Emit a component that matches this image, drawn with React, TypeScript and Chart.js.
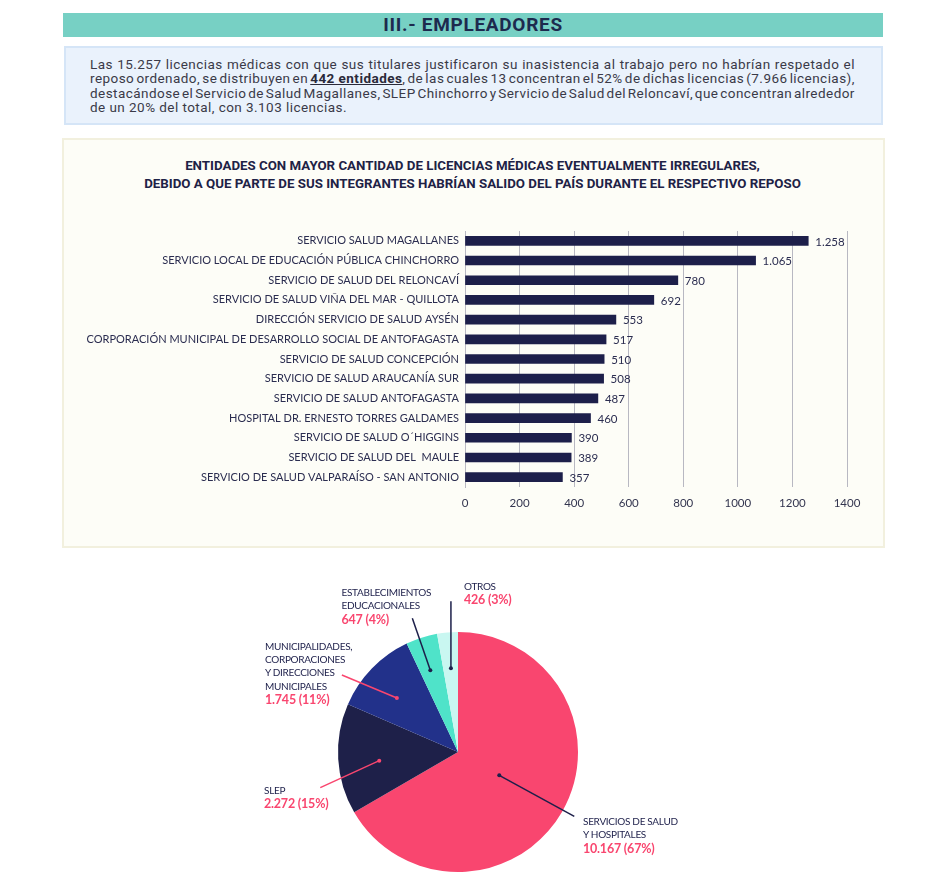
import React, { useEffect, useRef } from 'react';
import { Chart, registerables } from 'chart.js';

Chart.register(...registerables);

// ---------- DATA ----------
const entityNames = [
  'SERVICIO SALUD MAGALLANES',
  'SERVICIO LOCAL DE EDUCACIÓN PÚBLICA CHINCHORRO',
  'SERVICIO DE SALUD DEL RELONCAVÍ',
  'SERVICIO DE SALUD VIÑA DEL MAR - QUILLOTA',
  'DIRECCIÓN SERVICIO DE SALUD AYSÉN',
  'CORPORACIÓN MUNICIPAL DE DESARROLLO SOCIAL DE ANTOFAGASTA',
  'SERVICIO DE SALUD CONCEPCIÓN',
  'SERVICIO DE SALUD ARAUCANÍA SUR',
  'SERVICIO DE SALUD ANTOFAGASTA',
  'HOSPITAL DR. ERNESTO TORRES GALDAMES',
  'SERVICIO DE SALUD O´HIGGINS',
  'SERVICIO DE SALUD DEL  MAULE',
  'SERVICIO DE SALUD VALPARAÍSO - SAN ANTONIO',
];
const entityLicencias = [1258, 1065, 780, 692, 553, 517, 510, 508, 487, 460, 390, 389, 357];
const axisMax = 1400;
const axisStep = 200;

const sectorNames = [
  'SERVICIOS DE SALUD\nY HOSPITALES',
  'SLEP',
  'MUNICIPALIDADES,\nCORPORACIONES\nY DIRECCIONES\nMUNICIPALES',
  'ESTABLECIMIENTOS\nEDUCACIONALES',
  'OTROS',
];
const sectorLicencias = [10167, 2272, 1745, 647, 426];
const sectorPercents = ['67%', '15%', '11%', '4%', '3%'];

const headerTitle = 'III.- EMPLEADORES';
const chartTitle = [
  'ENTIDADES CON MAYOR CANTIDAD DE LICENCIAS MÉDICAS EVENTUALMENTE IRREGULARES,',
  'DEBIDO A QUE PARTE DE SUS INTEGRANTES HABRÍAN SALIDO DEL PAÍS DURANTE EL RESPECTIVO REPOSO',
];

// ---------- STYLE ----------
const NAVY = '#1d1f4a';
const PINK = '#f9466f';
const GRID = '#b8b8c2';
const sectorColors = [PINK, '#1e2049', '#22318a', '#4fe3c9', '#c9f7f1'];
const LABEL_FONT = 'Lato';
const TITLE_FONT = 'Roboto';

const fmt = (n: number) => String(n).replace(/\B(?=(\d{3})+(?!\d))/g, '.');

// leader lines: start on the slice (fraction of radius at mid angle, with small angle shift), end offset
const leaderSpecs = [
  { frac: 0.395, shift: -0.5, dx: 75, dy: 41, color: NAVY },
  { frac: 0.66, shift: -3, dx: -59, dy: 27, color: PINK },
  { frac: 0.68, shift: -2.6, dx: -55, dy: -23, color: PINK },
  { frac: 0.72, shift: -1, dx: -18, dy: -52, color: NAVY },
  { frac: 0.7, shift: 0.2, dx: 0, dy: -67, color: NAVY },
];
// label block positions (left, top)
const labelPos = [
  { left: 583, top: 815 },
  { left: 264, top: 784 },
  { left: 265, top: 639.5 },
  { left: 341.5, top: 586 },
  { left: 464, top: 579.5 },
];

function BarChart() {
  const ref = useRef<HTMLCanvasElement>(null);
  useEffect(() => {
    const valueLabels = {
      id: 'valueLabels',
      afterDatasetsDraw(chart: any) {
        const ctx = chart.ctx;
        const meta = chart.getDatasetMeta(0);
        ctx.save();
        ctx.font = `11.5px ${LABEL_FONT}`;
        ctx.fillStyle = '#2b2d50';
        ctx.textBaseline = 'middle';
        ctx.textAlign = 'left';
        meta.data.forEach((el: any, i: number) => {
          ctx.fillText(fmt(entityLicencias[i]), el.x + 7, el.y + 1);
        });
        ctx.restore();
      },
    };
    const chart = new Chart(ref.current as HTMLCanvasElement, {
      type: 'bar',
      data: {
        labels: entityNames,
        datasets: [{ data: entityLicencias, backgroundColor: NAVY, barThickness: 9 }],
      },
      options: {
        indexAxis: 'y',
        animation: false,
        responsive: false,
        layout: { padding: { left: 0, right: 38, top: 93, bottom: 38 } },
        plugins: {
          legend: { display: false },
          tooltip: { enabled: false },
        },
        scales: {
          x: {
            min: 0,
            max: axisMax,
            ticks: {
              stepSize: axisStep,
              color: '#33354f',
              font: { family: LABEL_FONT, size: 11.5 },
              padding: 9,
              callback: (v: any) => String(v),
            },
            grid: { color: GRID, drawTicks: false, lineWidth: 1 },
            border: { display: false },
            afterFit: (s: any) => {
              s.height = 23;
            },
          },
          y: {
            grid: { display: false, drawTicks: false },
            border: { display: true, color: GRID },
            ticks: { padding: 6, color: '#2b2d50', font: { family: LABEL_FONT, size: 11 }, autoSkip: false },
            afterFit: (s: any) => {
              s.width = 403;
            },
          },
        },
      } as any,
      plugins: [valueLabels],
    });
    return () => chart.destroy();
  }, []);
  return <canvas ref={ref} width={823} height={410} style={{ position: 'absolute', left: 62, top: 138 }} />;
}

function PieChart() {
  const ref = useRef<HTMLCanvasElement>(null);
  useEffect(() => {
    const leaders = {
      id: 'leaders',
      afterDatasetsDraw(chart: any) {
        const ctx = chart.ctx;
        const meta = chart.getDatasetMeta(0);
        ctx.save();
        meta.data.forEach((arc: any, i: number) => {
          const p = arc.getProps(['x', 'y', 'startAngle', 'endAngle', 'outerRadius'], true);
          const s = leaderSpecs[i];
          const a = (p.startAngle + p.endAngle) / 2 + (s.shift * Math.PI) / 180;
          const sx = p.x + Math.cos(a) * p.outerRadius * s.frac;
          const sy = p.y + Math.sin(a) * p.outerRadius * s.frac;
          ctx.strokeStyle = s.color;
          ctx.fillStyle = s.color;
          ctx.lineWidth = 1.5;
          ctx.beginPath();
          ctx.moveTo(sx, sy);
          ctx.lineTo(sx + s.dx, sy + s.dy);
          ctx.stroke();
          ctx.beginPath();
          ctx.arc(sx, sy, 2, 0, Math.PI * 2);
          ctx.fill();
        });
        ctx.restore();
      },
    };
    const chart = new Chart(ref.current as HTMLCanvasElement, {
      type: 'pie',
      data: {
        labels: sectorNames,
        datasets: [{ data: sectorLicencias, backgroundColor: sectorColors, borderWidth: 0, hoverOffset: 0 }],
      },
      options: {
        animation: false,
        responsive: false,
        layout: { padding: { left: 88, right: 152, top: 60, bottom: 18 } },
        plugins: { legend: { display: false }, tooltip: { enabled: false } },
      } as any,
      plugins: [leaders],
    });
    return () => chart.destroy();
  }, []);
  return <canvas ref={ref} width={480} height={318} style={{ position: 'absolute', left: 250, top: 572 }} />;
}

function JustLine({ children }: { children: React.ReactNode[] }) {
  return (
    <div
      style={{
        display: 'flex',
        justifyContent: 'space-between',
        width: 765,
        whiteSpace: 'nowrap',
        height: 14.4,
        gap: 1,
      }}
    >
      {children}
    </div>
  );
}

const words = (s: string) => s.split(' ').map((w, i) => <span key={w + i}>{w} </span>);

export default function App() {
  const para1 =
    'Las 15.257 licencias médicas con que sus titulares justificaron su inasistencia al trabajo pero no habrían respetado el';
  const para2a = 'reposo ordenado, se distribuyen en';
  const para2b = 'de las cuales 13 concentran el 52% de dichas licencias (7.966 licencias),';
  const para3 =
    'destacándose el Servicio de Salud Magallanes, SLEP Chinchorro y Servicio de Salud del Reloncaví, que concentran alrededor';
  const para4 = 'de un 20% del total, con 3.103 licencias.';
  return (
    <div
      style={{
        position: 'absolute',
        left: 0,
        top: 0,
        width: 946,
        height: 890,
        background: '#ffffff',
        overflow: 'hidden',
      }}
    >
      <div
        style={{
          position: 'absolute',
          left: 63,
          top: 13,
          width: 820,
          height: 24,
          background: '#77d0c4',
          color: '#1d2a4e',
          textAlign: 'center',
          lineHeight: '24px',
          fontFamily: TITLE_FONT,
          fontWeight: 'bold',
          fontSize: 19,
          letterSpacing: 0.7,
        }}
      >
        {headerTitle}
      </div>
      <div
        style={{
          position: 'absolute',
          left: 64,
          top: 46,
          width: 815,
          height: 75,
          background: '#eaf2fc',
          border: '2px solid #d5e5f7',
        }}
      />
      <div
        style={{
          position: 'absolute',
          left: 90,
          top: 56.8,
          width: 765,
          fontFamily: 'Roboto',
          fontSize: 13.5,
          letterSpacing: 0.45,
          lineHeight: '14.4px',
          color: '#3a3a48',
        }}
      >
        <JustLine>{words(para1)}</JustLine>
        <JustLine>
          {[
            ...words(para2a),
            <span key="b">
              <b style={{ textDecoration: 'underline', color: '#2a2a3a' }}>442 entidades</b>,{' '}
            </span>,
            ...words(para2b),
          ]}
        </JustLine>
        <JustLine>{words(para3)}</JustLine>
        <div style={{ height: 14.4, whiteSpace: 'nowrap' }}>{para4}</div>
      </div>
      <div
        style={{
          position: 'absolute',
          left: 62,
          top: 138,
          width: 819,
          height: 406,
          background: '#fdfdf7',
          border: '2px solid #f2f0de',
        }}
      />
      <div
        style={{
          position: 'absolute',
          left: 62,
          top: 157,
          width: 823,
          textAlign: 'center',
          fontFamily: TITLE_FONT,
          fontWeight: 'bold',
          fontSize: 13.3,
          lineHeight: '18px',
          color: '#1e2246',
          paddingLeft: 0,
          boxSizing: 'border-box',
        }}
      >
        {chartTitle.map((t) => (
          <div key={t} style={{ whiteSpace: 'nowrap', marginLeft: -2 }}>
            {t}
          </div>
        ))}
      </div>
      <BarChart />
      <PieChart />
      {sectorNames.map((name, i) => (
        <div
          key={name}
          style={{
            position: 'absolute',
            left: labelPos[i].left,
            top: labelPos[i].top,
            fontFamily: LABEL_FONT,
            fontSize: 10,
            letterSpacing: -0.3,
            lineHeight: '13.4px',
            color: NAVY,
            whiteSpace: 'pre',
          }}
        >
          {name}
          {'\n'}
          <span style={{ color: PINK, fontWeight: 'bold', fontSize: 12.5, letterSpacing: -0.2 }}>
            {fmt(sectorLicencias[i])} ({sectorPercents[i]})
          </span>
        </div>
      ))}
    </div>
  );
}
